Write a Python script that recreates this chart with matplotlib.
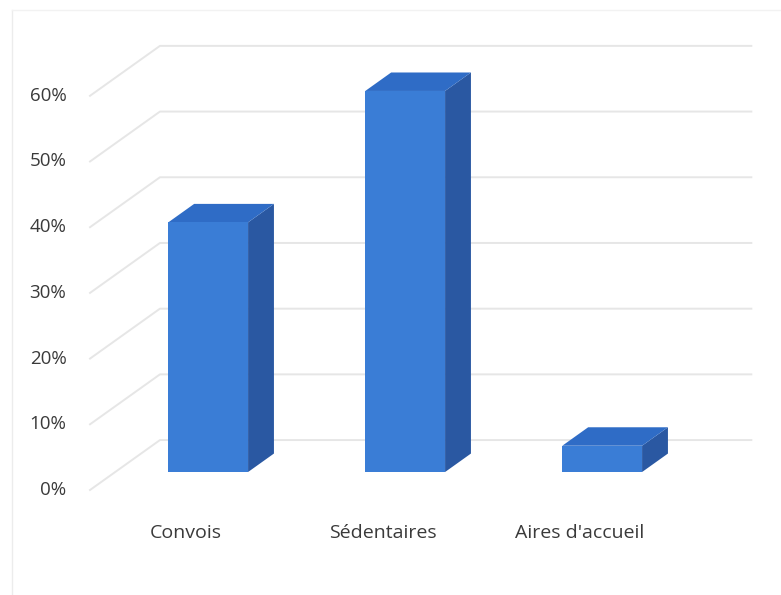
import matplotlib.pyplot as plt
import numpy as np

# data
categories = ["Convois", "Sédentaires", "Aires d'accueil"]
values = [38, 58, 4]          # percent
ticks = [0, 10, 20, 30, 40, 50, 60]
tick_labels = ["0%", "10%", "20%", "30%", "40%", "50%", "60%"]

# pseudo-3d layout (x in category units, y in percent units)
DEPTH_X, DEPTH_Y = 0.355, 7.6      # floor depth vector (front -> back wall)
BAR_W = 0.405
BAR_F0, BAR_F1 = 0.36, 0.73        # bar front/back as fraction of depth
FLOOR_L, FLOOR_R = -0.472, 2.53

FRONT = "#3a7dd6"
TOP = "#2f6cc6"
SIDE = "#2a58a2"
GRID = "#e6e6e6"
TEXT = "#3a3a3a"

fig = plt.figure(figsize=(7.81, 5.95), dpi=100)
ax = fig.add_axes([0, 0, 1, 1])
ax.set_xlim(-183 / 197, (781 - 183) / 197)
ax.set_ylim(-105 / 6.57, (595 - 105) / 6.57)
ax.axis("off")

# gridlines: diagonal on the left side wall + horizontal on the back wall
for t, lab in zip(ticks, tick_labels):
    ax.plot([FLOOR_L, FLOOR_L + DEPTH_X, FLOOR_R + DEPTH_X],
            [t, t + DEPTH_Y, t + DEPTH_Y], color=GRID, lw=1.4,
            solid_joinstyle="round", zorder=1)
    ax.annotate(lab, (FLOOR_L, t), xytext=(-17, 0), textcoords="offset points",
                ha="right", va="center", fontsize=13.5, color=TEXT,
                family="Open Sans")

# bars
for i, (cat, v) in enumerate(zip(categories, values)):
    fx = i + BAR_F0 * DEPTH_X
    fy = BAR_F0 * DEPTH_Y
    dx = (BAR_F1 - BAR_F0) * DEPTH_X
    dy = (BAR_F1 - BAR_F0) * DEPTH_Y
    x0, x1 = fx - BAR_W / 2, fx + BAR_W / 2
    y0, y1 = fy, fy + v
    # side
    ax.fill([x1, x1 + dx, x1 + dx, x1], [y0, y0 + dy, y1 + dy, y1],
            color=SIDE, lw=0, zorder=3)
    # top
    ax.fill([x0, x0 + dx, x1 + dx, x1], [y1, y1 + dy, y1 + dy, y1],
            color=TOP, lw=0, zorder=3)
    # front
    ax.fill([x0, x1, x1, x0], [y0, y0, y1, y1], color=FRONT, lw=0, zorder=4)
    ax.annotate(cat, (i, 0), xytext=(2, -31), textcoords="offset points",
                ha="center", va="center", fontsize=14, color=TEXT,
                family="Open Sans")

# faint chart border
fig.add_artist(plt.Line2D([12 / 781, 12 / 781], [0, 1 - 10 / 595],
                          color="#ececec", lw=1))
fig.add_artist(plt.Line2D([12 / 781, 1], [1 - 10 / 595, 1 - 10 / 595],
                          color="#f2f2f2", lw=1))

fig.savefig("out.png", dpi=100)
